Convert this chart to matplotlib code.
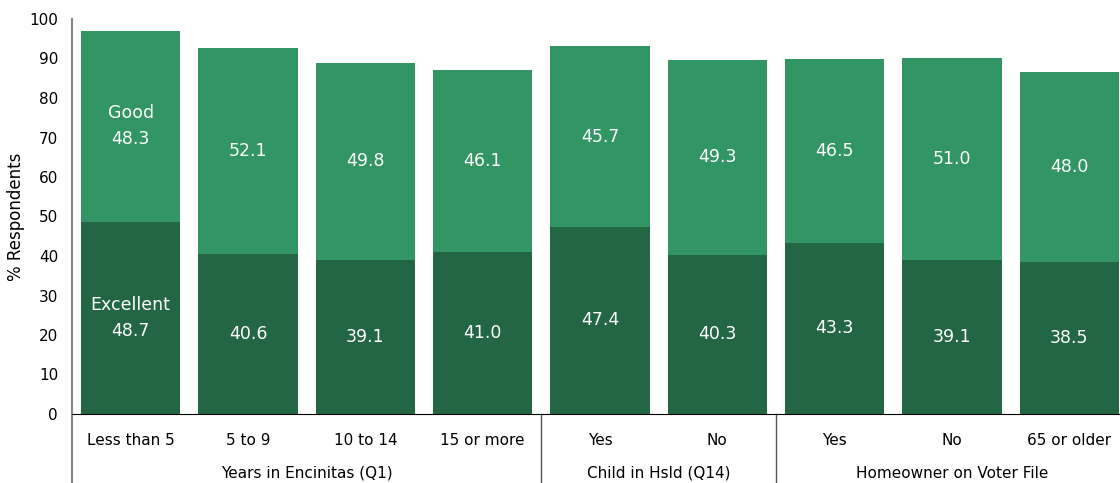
import matplotlib
matplotlib.use("Agg")
import matplotlib.pyplot as plt
from matplotlib.transforms import blended_transform_factory

categories = ["Less than 5", "5 to 9", "10 to 14", "15 or more", "Yes", "No", "Yes", "No", "65 or older"]
groups = ["Years in Encinitas (Q1)", "Child in Hsld (Q14)", "Homeowner on Voter File"]
group_sizes = [4, 2, 3]
excellent = [48.7, 40.6, 39.1, 41.0, 47.4, 40.3, 43.3, 39.1, 38.5]
good = [48.3, 52.1, 49.8, 46.1, 45.7, 49.3, 46.5, 51.0, 48.0]
yticks = list(range(0, 101, 10))

dark = "#226644"
light = "#329664"

fig = plt.figure(figsize=(11.2, 4.83), dpi=100)
ax = fig.add_axes([72/1120, 69/483, 1056/1120, (414-19)/483])
x = list(range(len(categories)))
w = 0.845
ax.bar(x, excellent, width=w, color=dark)
ax.bar(x, good, width=w, bottom=excellent, color=light)

fs = 11
vfs = 12.5
for i in x:
    e, g = excellent[i], good[i]
    el = f"Excellent\n{e:.1f}" if i == 0 else f"{e:.1f}"
    gl = f"Good\n{g:.1f}" if i == 0 else f"{g:.1f}"
    ax.text(i, e / 2, el, ha="center", va="center", color="white", fontsize=vfs, linespacing=1.6)
    ax.text(i, e + g / 2, gl, ha="center", va="center", color="white", fontsize=vfs, linespacing=1.6)

ax.set_xlim(-0.5, len(categories) - 0.5)
ax.set_ylim(0, 100)
ax.set_yticks(yticks)
ax.set_xticks(x)
ax.set_xticklabels(categories, fontsize=fs)
ax.tick_params(axis="x", length=0, pad=14)
ax.tick_params(axis="y", length=0, pad=10, labelsize=fs)
ax.set_ylabel("% Respondents", fontsize=fs + 1, labelpad=3)
for s in ["top", "right"]:
    ax.spines[s].set_visible(False)
ax.spines["left"].set_visible(False)
ax.spines["bottom"].set_color("black")

trans = blended_transform_factory(ax.transData, ax.transAxes)
ybot = -69 / (414 - 19)
ax.plot([-0.5, -0.5], [ybot, 1.0], transform=trans, color="#888888", lw=1.5, clip_on=False)
start = 0
for gi, (gname, n) in enumerate(zip(groups, group_sizes)):
    center = start + (n - 1) / 2
    ax.text(center, -59 / 395, gname, transform=trans, ha="center", va="center", fontsize=fs)
    end = start + n
    if gi < len(groups) - 1:
        ax.plot([end - 0.5, end - 0.5], [ybot, 0], transform=trans, color="#555555", lw=1, clip_on=False)
    start = end

fig.savefig("out.png", dpi=100)
